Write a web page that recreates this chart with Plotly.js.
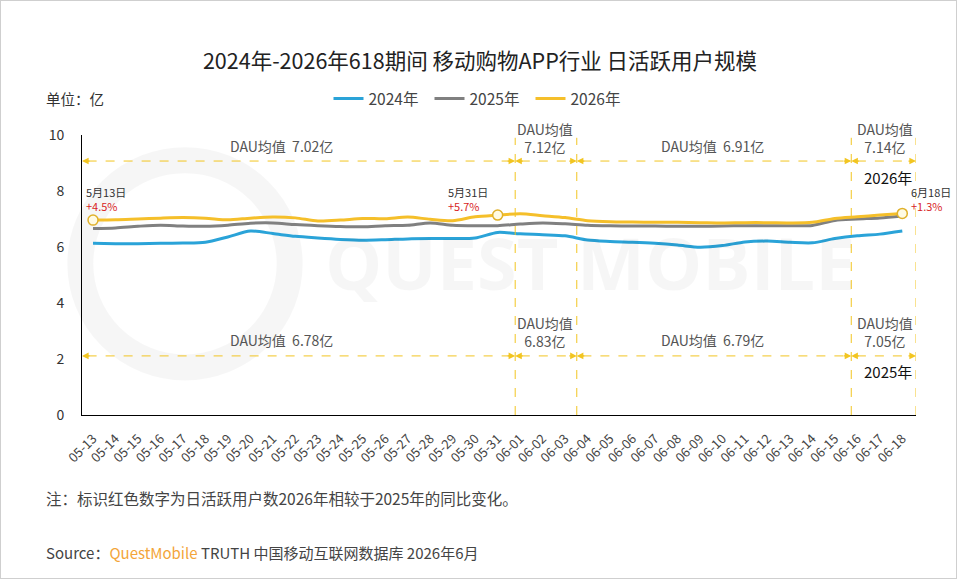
<!DOCTYPE html>
<html>
<head>
<meta charset="utf-8">
<script src="https://cdn.plot.ly/plotly-3.0.1.min.js"></script>
<style>
  html, body { margin: 0; padding: 0; background: #fff; }
  #chart { width: 960px; height: 580px; }
  #frame { position: absolute; left: 0; top: 0; width: 955px; height: 577px; border: 1px solid #cfcfcf; pointer-events: none; }
</style>
</head>
<body>
<div id="chart"></div>
<div id="frame"></div>
<script>
// ---- data ----
const dates = ['05-13','05-14','05-15','05-16','05-17','05-18','05-19','05-20','05-21','05-22','05-23','05-24','05-25','05-26','05-27','05-28','05-29','05-30','05-31',
               '06-01','06-02','06-03','06-04','06-05','06-06','06-07','06-08','06-09','06-10','06-11','06-12','06-13','06-14','06-15','06-16','06-17','06-18'];
const seriesNames = ['2024年', '2025年', '2026年'];
const dau2024 = [6.13,6.12,6.12,6.13,6.14,6.17,6.36,6.57,6.48,6.38,6.32,6.27,6.24,6.26,6.29,6.30,6.30,6.32,6.52,
                 6.47,6.44,6.40,6.25,6.20,6.17,6.13,6.07,5.99,6.05,6.18,6.21,6.17,6.15,6.30,6.40,6.46,6.57];
const dau2025 = [6.66,6.68,6.74,6.78,6.75,6.74,6.78,6.85,6.86,6.80,6.76,6.73,6.72,6.76,6.78,6.86,6.78,6.76,6.76,
                 6.82,6.86,6.83,6.78,6.76,6.75,6.75,6.74,6.74,6.75,6.76,6.76,6.76,6.77,6.95,7.00,7.04,7.11];
const dau2026 = [6.96,6.97,7.00,7.03,7.05,7.03,6.97,7.03,7.07,7.04,6.93,6.96,7.02,7.01,7.07,6.99,6.94,7.08,7.14,
                 7.19,7.12,7.05,6.94,6.90,6.89,6.88,6.88,6.87,6.86,6.87,6.87,6.86,6.88,7.02,7.08,7.14,7.20];
const periodAvg2026 = ['7.02', '7.12', '6.91', '7.14'];
const periodAvg2025 = ['6.78', '6.83', '6.79', '7.05'];
const yoyDates = ['5月13日', '5月31日', '6月18日'];
const yoyValues = ['+4.5%', '+5.7%', '+1.3%'];
const yoyIndex = [0, 18, 36];
const yTicks = [0, 2, 4, 6, 8, 10];

// ---- styling / layout ----
const FONT = '"Noto Sans CJK SC", "Noto Sans", sans-serif';
const colors = ['#2aa3d8', '#808080', '#f5bf2a'];
const dashYellow = '#f2c521';
const redText = '#d81e1e';

const traces = [dau2024, dau2025, dau2026].map((vals, k) => ({
  type: 'scatter', mode: 'lines', name: seriesNames[k],
  x: dates, y: vals,
  line: { color: colors[k], width: 3, shape: 'spline', smoothing: 0.8 },
  hoverinfo: 'skip'
}));
traces.push({
  type: 'scatter', mode: 'markers', showlegend: false, hoverinfo: 'skip',
  x: yoyIndex.map(i => dates[i]), y: yoyIndex.map(i => dau2026[i]),
  marker: { size: 10, color: '#fffbe3', line: { color: '#e0b12a', width: 1.5 } }
});

// divider positions (category index units) and arrow rows
const xLeft = -0.49, xRight = 36.61;
const dividers = [18.78, 21.52, 33.73, 36.61];
const segBounds = [xLeft].concat(dividers);
const arrowRowTop = 9.07, arrowRowBottom = 2.11;

const shapes = [];
// faint watermark ring
shapes.push({ type: 'circle', xref: 'paper', yref: 'paper', x0: -0.002, x1: 0.249, y0: 0.17, y1: 0.91,
  line: { color: 'rgba(0,0,0,0.035)', width: 26 }, layer: 'below' });
dividers.forEach(xv => shapes.push({ type: 'line', xref: 'x', yref: 'y', x0: xv, x1: xv, y0: 0, y1: 9.9,
  line: { color: dashYellow, width: 1, dash: 'dash' } }));
[arrowRowTop, arrowRowBottom].forEach(yv => {
  for (let s = 0; s < 4; s++) {
    shapes.push({ type: 'line', xref: 'x', yref: 'y', x0: segBounds[s] + 0.25, x1: segBounds[s + 1] - 0.25, y0: yv, y1: yv,
      line: { color: dashYellow, width: 1, dash: 'dash' } });
  }
});

const annotations = [];
// arrowheads
[arrowRowTop, arrowRowBottom].forEach(yv => {
  for (let s = 0; s < 4; s++) {
    annotations.push({ x: segBounds[s], y: yv, xref: 'x', yref: 'y', text: '', showarrow: true,
      ax: 9, ay: 0, arrowhead: 2, arrowsize: 1.1, arrowwidth: 1.2, arrowcolor: dashYellow, standoff: 0 });
    annotations.push({ x: segBounds[s + 1], y: yv, xref: 'x', yref: 'y', text: '', showarrow: true,
      ax: -9, ay: 0, arrowhead: 2, arrowsize: 1.1, arrowwidth: 1.2, arrowcolor: dashYellow, standoff: 0 });
  }
});
// average labels
const labelX = [8.4, 20.12, 27.55, 35.25];
const twoLine = [false, true, false, true];
function avgText(v, two) { return two ? 'DAU均值<br>' + v + '亿' : 'DAU均值  ' + v + '亿'; }
for (let s = 0; s < 4; s++) {
  annotations.push({ x: labelX[s], y: twoLine[s] ? 9.89 : 9.61, xref: 'x', yref: 'y', showarrow: false,
    text: avgText(periodAvg2026[s], twoLine[s]), font: { family: FONT, size: 14, color: '#555' }, align: 'center' });
  annotations.push({ x: labelX[s], y: twoLine[s] ? 2.95 : 2.67, xref: 'x', yref: 'y', showarrow: false,
    text: avgText(periodAvg2025[s], twoLine[s]), font: { family: FONT, size: 14, color: '#555' }, align: 'center' });
}
// year tags
annotations.push({ x: 35.38, y: 8.5, xref: 'x', yref: 'y', showarrow: false, text: seriesNames[2],
  font: { family: FONT, size: 15, color: '#111' } });
annotations.push({ x: 35.38, y: 1.55, xref: 'x', yref: 'y', showarrow: false, text: seriesNames[1],
  font: { family: FONT, size: 15, color: '#111' } });
// yoy labels
const yoyLabelX = [-0.42, 15.7, 36.31];
for (let k = 0; k < 3; k++) {
  annotations.push({ x: yoyLabelX[k], y: 7.72, xref: 'x', yref: 'y', xanchor: 'left', showarrow: false, align: 'left',
    text: yoyDates[k] + '<br><span style="color:' + redText + '">' + yoyValues[k] + '</span>',
    font: { family: FONT, size: 11, color: '#333' } });
}
// watermark
annotations.push({ xref: 'paper', yref: 'paper', x: 0.61, y: 0.545, showarrow: false, text: '<b>QUEST MOBILE</b>',
  font: { family: '"Open Sans", sans-serif', size: 72, color: 'rgba(0,0,0,0.035)' } });
// unit, note, source
annotations.push({ xref: 'paper', yref: 'paper', x: -0.045, y: 1.129, xanchor: 'left', yanchor: 'middle', showarrow: false,
  text: '单位：亿', font: { family: FONT, size: 14.5, color: '#333' } });
annotations.push({ xref: 'paper', yref: 'paper', x: -0.045, y: -0.297, xanchor: 'left', yanchor: 'middle', showarrow: false,
  text: '注：标识红色数字为日活跃用户数2026年相较于2025年的同比变化。', font: { family: FONT, size: 15.5, color: '#444' } });
annotations.push({ xref: 'paper', yref: 'paper', x: -0.045, y: -0.49, xanchor: 'left', yanchor: 'middle', showarrow: false,
  text: 'Source：<span style="color:#f3a53a">QuestMobile</span> TRUTH 中国移动互联网数据库 2026年6月',
  font: { family: FONT, size: 15, color: '#444' } });

const layout = {
  width: 960, height: 580,
  margin: { l: 82, r: 44, t: 135, b: 165 },
  paper_bgcolor: '#fff', plot_bgcolor: 'rgba(0,0,0,0)',
  font: { family: FONT, color: '#333' },
  title: { text: '2024年-2026年618期间 移动购物APP行业 日活跃用户规模', x: 0.5, xref: 'container', y: 1 - 61 / 580, yref: 'container',
    yanchor: 'middle', font: { family: FONT, size: 21.5, color: '#222' } },
  showlegend: true,
  legend: { orientation: 'h', xref: 'container', yref: 'container', x: 0.5, xanchor: 'center', y: 1 - 99 / 580, yanchor: 'middle',
    font: { family: FONT, size: 15.5, color: '#444' }, itemwidth: 30, entrywidth: 56, traceorder: 'normal' },
  xaxis: { type: 'category', range: [xLeft, xRight], showgrid: false, zeroline: false, showline: true, linecolor: '#000', linewidth: 1,
    ticks: '', tickangle: -45, ticklabelstandoff: 10, tickfont: { family: FONT, size: 13, color: '#444' }, fixedrange: true },
  yaxis: { range: [0, 10], tickvals: yTicks, showgrid: false, zeroline: false, showline: true, linecolor: '#000', linewidth: 1,
    ticks: '', ticklabelstandoff: 14, tickfont: { family: FONT, size: 14, color: '#333' }, fixedrange: true },
  shapes: shapes,
  annotations: annotations
};

Plotly.newPlot('chart', traces, layout, { displayModeBar: false, staticPlot: true });
</script>
</body>
</html>
